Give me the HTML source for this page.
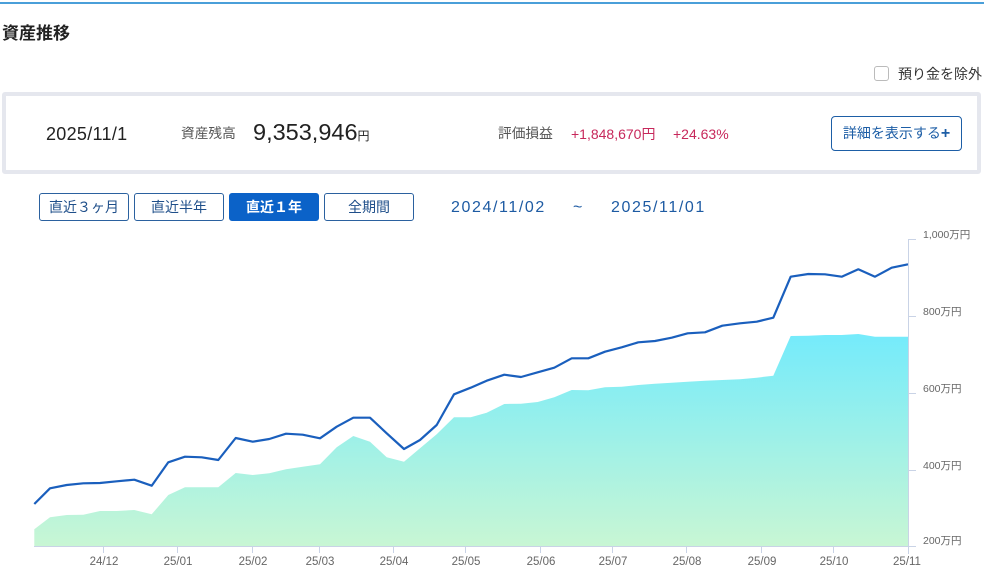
<!DOCTYPE html>
<html>
<head>
<meta charset="utf-8">
<style>
  html,body{margin:0;padding:0;background:#fff;}
  body{width:984px;height:571px;position:relative;overflow:hidden;font-family:"Liberation Sans","Noto Sans CJK JP",sans-serif;}
  .a{position:absolute;white-space:nowrap;}
  .topbar{left:0;top:2px;width:984px;height:2px;background:#4a9fd9;}
  .title{left:2px;top:24px;height:20px;line-height:20px;font-size:17px;font-weight:bold;color:#222;}
  .chk{left:874px;top:66px;width:13px;height:13px;border:1px solid #bbb;border-radius:3px;background:#fff;}
  .chklbl{left:898px;top:65px;height:18px;line-height:18px;font-size:14px;color:#333;letter-spacing:0px;}
  .box{left:2px;top:92px;width:971px;height:74px;border:4px solid #e5e7ee;border-radius:3px;background:#fff;}
  .date{left:46px;top:123px;height:22px;line-height:22px;font-size:18px;color:#222;letter-spacing:0.3px;}
  .lbl{font-size:13.7px;color:#555;height:20px;line-height:20px;top:124px;}
  .big{left:253px;top:117px;height:30px;line-height:30px;font-size:23.5px;color:#222;}
  .big span{font-size:12px;}
  .red{color:#c7285b;font-size:14px;height:20px;line-height:20px;top:124px;}
  .btn{left:831px;top:116px;width:129px;height:33px;border:1px solid #1d5ea6;border-radius:4px;text-align:center;line-height:33px;font-size:14px;color:#1d5ea6;}
  .rb{top:193px;width:88px;height:26px;border:1px solid #2b619f;border-radius:3px;text-align:center;line-height:26px;font-size:14px;color:#1f4f8a;background:#fff;}
  .rb.on{background:#0b62c8;border-color:#0b62c8;color:#fff;font-weight:bold;}
  .dr{top:198px;height:20px;line-height:20px;font-size:16px;color:#1e5ba3;letter-spacing:1.6px;}
</style>
</head>
<body>
<div class="a topbar"></div>
<div class="a title">資産推移</div>
<div class="a chk"></div>
<div class="a chklbl">預り金を除外</div>

<div class="a box"></div>
<div class="a date">2025/11/1</div>
<div class="a lbl" style="left:181px;">資産残高</div>
<div class="a big">9,353,946<span>円</span></div>
<div class="a lbl" style="left:498px;">評価損益</div>
<div class="a red" style="left:571px;">+1,848,670円</div>
<div class="a red" style="left:673px;">+24.63%</div>
<div class="a btn">詳細を表示する<b style="font-size:16px;">+</b></div>

<div class="a rb" style="left:39px;">直近３ヶ月</div>
<div class="a rb" style="left:134px;">直近半年</div>
<div class="a rb on" style="left:229px;">直近１年</div>
<div class="a rb" style="left:324px;">全期間</div>

<div class="a dr" style="left:451px;">2024/11/02</div>
<div class="a dr" style="left:573px;letter-spacing:0;">~</div>
<div class="a dr" style="left:611px;">2025/11/01</div>

<svg class="a" style="left:0;top:0;" width="984" height="571" viewBox="0 0 984 571">
  <defs>
    <linearGradient id="g" x1="0" y1="336" x2="0" y2="546" gradientUnits="userSpaceOnUse">
      <stop offset="0" stop-color="#75ebfb"/>
      <stop offset="1" stop-color="#c8f6d4"/>
    </linearGradient>
  </defs>
  <polygon fill="url(#g)" points="34.3,546 34.3,529.3 50,517.3 66.7,515 83.3,514.7 100,511 116.7,511 134.3,510 151.7,514.3 168.3,495 185,487.3 201.7,487.3 218.3,487.3 235.7,473 252.7,475 269.3,473.3 286,469.3 302.7,466.7 320,464.3 336.7,447.3 353.3,436 370,441.7 386.7,457.3 404,461.7 420,448.3 436.7,434.3 454,417.3 470.7,417.3 486.7,412.7 504.3,404 521,403.7 537.7,402 554.3,397.3 571.7,390 588.3,390.3 605,387.3 621.7,386.7 638.3,385 655,383.7 671.7,382.7 687.7,381.7 705,380.7 722.3,380 740,379.3 756.7,377.7 773.3,375.7 790.7,336 808.3,335.7 825,335 841.7,335 858.3,334 875,336.7 891.7,336.7 908,336.7 908,546"/>
  <polyline fill="none" stroke="#1a5fbd" stroke-width="2.2" stroke-linejoin="round" points="34.3,504 50,488.3 66.7,485 83.3,483.3 100,483 116.7,481.3 134.3,479.7 151.7,485.7 168.3,462.3 185,456.7 201.7,457.3 218.3,460 235.7,438 252.7,441.7 269.3,439 286,433.7 302.7,434.7 320,438.3 336.7,426.7 353.3,417.7 370,417.7 386.7,433.3 404,449 420,440 436.7,425 454,394.3 470.7,387.7 486.7,380.7 504.3,374.7 521,377 537.7,372.3 554.3,367.7 571.7,358.3 588.3,358.3 605,351.7 621.7,347.3 638.3,342.3 655,341 671.7,337.7 687.7,333.3 705,332.3 722.3,325.7 740,323.3 756.7,321.7 773.3,317.7 790.7,276.7 808.3,274 825,274.3 841.7,276.7 858.3,269.3 875,276.7 891.7,267.7 908,264.3"/>
  <!-- axes -->
  <g stroke="#c9d3e6" stroke-width="1" fill="none">
    <line x1="34" y1="546.5" x2="916" y2="546.5"/>
    <line x1="908.5" y1="239" x2="908.5" y2="554"/>
    <line x1="908" y1="239.5" x2="916" y2="239.5"/>
    <line x1="908" y1="316.5" x2="916" y2="316.5"/>
    <line x1="908" y1="393.5" x2="916" y2="393.5"/>
    <line x1="908" y1="470.5" x2="916" y2="470.5"/>
    <line x1="103.5" y1="546" x2="103.5" y2="553"/>
    <line x1="177.5" y1="546" x2="177.5" y2="553"/>
    <line x1="252.5" y1="546" x2="252.5" y2="553"/>
    <line x1="319.5" y1="546" x2="319.5" y2="553"/>
    <line x1="393.5" y1="546" x2="393.5" y2="553"/>
    <line x1="465.5" y1="546" x2="465.5" y2="553"/>
    <line x1="540.5" y1="546" x2="540.5" y2="553"/>
    <line x1="612.5" y1="546" x2="612.5" y2="553"/>
    <line x1="686.5" y1="546" x2="686.5" y2="553"/>
    <line x1="761.5" y1="546" x2="761.5" y2="553"/>
    <line x1="833.5" y1="546" x2="833.5" y2="553"/>
  </g>
  <g font-family="Liberation Sans, Noto Sans CJK JP, sans-serif" font-size="10.5" fill="#666">
    <text x="923" y="238">1,000万円</text>
    <text x="923" y="315">800万円</text>
    <text x="923" y="392">600万円</text>
    <text x="923" y="469">400万円</text>
    <text x="923" y="544">200万円</text>
  </g>
  <g font-family="Liberation Sans, sans-serif" font-size="11.5" fill="#666" text-anchor="middle">
    <text x="104" y="565">24/12</text>
    <text x="178" y="565">25/01</text>
    <text x="253" y="565">25/02</text>
    <text x="320" y="565">25/03</text>
    <text x="394" y="565">25/04</text>
    <text x="466" y="565">25/05</text>
    <text x="541" y="565">25/06</text>
    <text x="613" y="565">25/07</text>
    <text x="687" y="565">25/08</text>
    <text x="762" y="565">25/09</text>
    <text x="834" y="565">25/10</text>
    <text x="907" y="565">25/11</text>
  </g>
</svg>
</body>
</html>
